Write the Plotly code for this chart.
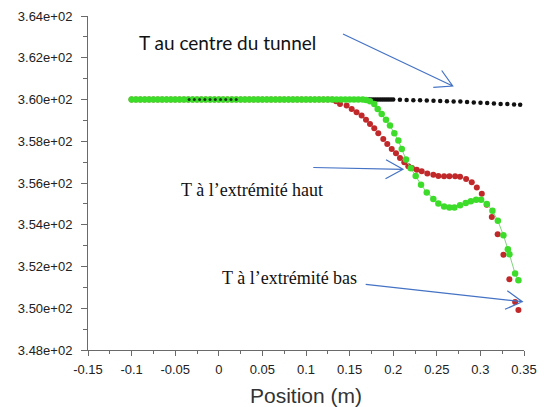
import plotly.graph_objects as go

# ---------------- data ----------------
# T at the centre of the tunnel (black)
center_x = [-0.1, -0.094, -0.088, -0.082, -0.076, -0.07, -0.064, -0.058, -0.052, -0.046,
            -0.04, -0.034, -0.028, -0.022, -0.016, -0.01, -0.004, 0.002, 0.008, 0.014,
            0.02, 0.026, 0.032, 0.038, 0.044, 0.05, 0.056, 0.062, 0.068, 0.074,
            0.08, 0.086, 0.092, 0.098, 0.104, 0.11, 0.116, 0.122, 0.128, 0.134,
            0.14, 0.146,
            0.15, 0.1525, 0.155, 0.1575, 0.16, 0.1625, 0.165, 0.1675, 0.17, 0.1725,
            0.175, 0.1775, 0.18, 0.1825, 0.185, 0.1875, 0.19, 0.1925, 0.195, 0.1975,
            0.2, 0.2077, 0.2154, 0.2231, 0.2308, 0.2385, 0.2462, 0.2539, 0.2616, 0.2693,
            0.277, 0.2847, 0.2924, 0.3001, 0.3078, 0.3155, 0.3232, 0.3309, 0.3386, 0.3456]
center_T = [360.0] * 62 + [
            360.0, 359.99, 359.98, 359.97, 359.96, 359.95, 359.94, 359.93, 359.92, 359.91,
            359.90, 359.88, 359.86, 359.85, 359.83, 359.81, 359.79, 359.78, 359.76, 359.75]

# T at the top end (red)
top_x = [-0.1, -0.095, -0.09, -0.085, -0.08, -0.075, -0.07, -0.065, -0.06, -0.055,
         -0.05, -0.045, -0.04, -0.035, -0.03, -0.025, -0.02, -0.015, -0.01, -0.005,
         0.0, 0.005, 0.01, 0.015, 0.02, 0.025, 0.03, 0.035, 0.04, 0.045,
         0.05, 0.055, 0.06, 0.065, 0.07, 0.075, 0.08, 0.085, 0.09, 0.095,
         0.1, 0.105, 0.11, 0.115, 0.12, 0.125, 0.13, 0.1345,
         0.139, 0.1466, 0.1524, 0.158, 0.1638, 0.1688, 0.1734, 0.1783, 0.1829, 0.1886,
         0.1932, 0.1983, 0.2032, 0.2078, 0.2127, 0.2173, 0.2215, 0.227, 0.2327, 0.2391,
         0.246, 0.2518, 0.2583, 0.2644, 0.271, 0.2767, 0.2836, 0.2901, 0.2959, 0.3016,
         0.3073, 0.3131, 0.3198, 0.3264, 0.3332, 0.3398, 0.3436]
top_T = [360.0] * 47 + [359.92,
         359.79, 359.71, 359.55, 359.39, 359.23, 359.03, 358.83, 358.62, 358.38, 358.11,
         357.87, 357.63, 357.42, 357.20, 356.99, 356.80, 356.72, 356.64, 356.56, 356.46,
         356.39, 356.34, 356.32, 356.32, 356.32, 356.30, 356.19, 356.03, 355.79, 355.49,
         354.96, 354.37, 353.55, 352.56, 351.39, 350.30, 349.92]

# T at the bottom end (green)
bottom_x = [-0.1, -0.095, -0.09, -0.085, -0.08, -0.075, -0.07, -0.065, -0.06, -0.055,
            -0.05, -0.045, -0.04, -0.035, -0.03, -0.025, -0.02, -0.015, -0.01, -0.005,
            0.0, 0.005, 0.01, 0.015, 0.02, 0.025, 0.03, 0.035, 0.04, 0.045,
            0.05, 0.055, 0.06, 0.065, 0.07, 0.075, 0.08, 0.085, 0.09, 0.095,
            0.1, 0.105, 0.11, 0.115, 0.12, 0.125, 0.13, 0.135, 0.14, 0.145,
            0.15, 0.155, 0.16, 0.165, 0.169,
            0.1734, 0.1783, 0.1822, 0.1868, 0.1917, 0.1963, 0.2013, 0.2059, 0.2098, 0.2147,
            0.2201, 0.2258, 0.2319, 0.2385, 0.246, 0.2518, 0.2583, 0.2644, 0.2702, 0.2767,
            0.2832, 0.289, 0.2951, 0.3008, 0.3073, 0.3138, 0.32, 0.3264, 0.3315, 0.3333,
            0.3398, 0.3436]
bottom_T = [360.0] * 54 + [359.98,
            359.92, 359.79, 359.55, 359.31, 359.03, 358.75, 358.38, 358.03, 357.63, 357.12,
            356.71, 356.33, 355.92, 355.55, 355.23, 355.02, 354.88, 354.83, 354.83, 354.94,
            355.04, 355.12, 355.20, 355.20, 354.99, 354.67, 354.19, 353.50, 352.83, 352.59,
            351.66, 351.34]

y_ticks = [348, 350, 352, 354, 356, 358, 360, 362, 364]
y_ticktext = ["3.48e+02", "3.50e+02", "3.52e+02", "3.54e+02", "3.56e+02",
              "3.58e+02", "3.60e+02", "3.62e+02", "3.64e+02"]
x_ticks = [-0.15, -0.1, -0.05, 0, 0.05, 0.1, 0.15, 0.2, 0.25, 0.3, 0.35]
x_ticktext = ["-0.15", "-0.1", "-0.05", "0", "0.05", "0.1", "0.15", "0.2", "0.25", "0.3", "0.35"]

labels = ["T au centre du tunnel", "T à l’extrémité haut", "T à l’extrémité bas"]

# ---------------- layout helpers (annotation positions from pixel layout) ----------------
W, H = 548, 407
ML, MR, MT, MB = 88, 24, 16, 57
XR = [-0.15, 0.35]
YR = [348, 364]


def px2x(px):
    return XR[0] + (px - ML) * (XR[1] - XR[0]) / (W - ML - MR)


def py2y(py):
    return YR[1] - (py - MT) * (YR[1] - YR[0]) / (H - MT - MB)


fig = go.Figure()

fig.add_trace(go.Scatter(x=center_x, y=center_T, mode="markers",
                         marker=dict(color="#111111", size=4.5), showlegend=False))
fig.add_trace(go.Scatter(x=top_x, y=top_T, mode="markers",
                         marker=dict(color="#c0282a", size=6), showlegend=False))
fig.add_trace(go.Scatter(x=bottom_x, y=bottom_T, mode="lines+markers",
                         line=dict(color="#7fd47a", width=1),
                         marker=dict(color="#3ddc2a", size=6.5), showlegend=False))
# part of the centre series rendered above the green one
ov_x = [x for x in center_x if -0.036 <= x <= 0.022]
ov_T = [t for x, t in zip(center_x, center_T) if -0.036 <= x <= 0.022]
fig.add_trace(go.Scatter(x=ov_x, y=ov_T, mode="markers",
                         marker=dict(color="#1a3a1a", size=3), showlegend=False))

# arrows (open heads) drawn as paths: tail, tip, head1, head2 (pixel layout)
arrows = [
    ((343, 34), (452.7, 86), (441.7, 70.5), (433.3, 87.3)),
    ((313.3, 167.5), (403, 169.3), (386, 159.7), (385.5, 178.7)),
    ((365.7, 284.3), (522.3, 301.7), (507.3, 290.7), (505, 309.3)),
]
for tail, tip, h1, h2 in arrows:
    def P(p):
        return f"{px2x(p[0])},{py2y(p[1])}"
    path = f"M {P(tail)} L {P(tip)} M {P(h1)} L {P(tip)} L {P(h2)}"
    fig.add_shape(type="path", path=path, xref="x", yref="y",
                  line=dict(color="#4472c4", width=1.2))

fig.add_annotation(x=px2x(137), y=py2y(42), text=labels[0], showarrow=False,
                   xanchor="left", yanchor="middle",
                   font=dict(family="Lato", size=19, color="#111111"))
fig.add_annotation(x=px2x(325), y=py2y(190), text=labels[1], showarrow=False,
                   xanchor="right", yanchor="middle",
                   font=dict(family="Liberation Serif", size=18, color="#111111"))
fig.add_annotation(x=px2x(359), y=py2y(278), text=labels[2], showarrow=False,
                   xanchor="right", yanchor="middle",
                   font=dict(family="Liberation Serif", size=18, color="#111111"))

fig.update_layout(
    width=W, height=H,
    margin=dict(l=ML, r=MR, t=MT, b=MB, autoexpand=False),
    paper_bgcolor="white", plot_bgcolor="white",
    font=dict(family="Liberation Sans, Arial", color="#222222"),
    xaxis=dict(range=XR, tickvals=x_ticks, ticktext=x_ticktext, showgrid=False, zeroline=False,
               showline=True, linecolor="#6a6a6a", linewidth=1, automargin=False,
               ticks="outside", ticklen=5, tickcolor="#6a6a6a", ticklabelstandoff=2,
               minor=dict(ticks="outside", ticklen=3, dtick=0.025, tickcolor="#6a6a6a"),
               tickfont=dict(size=13, color="#222222"),
               title=dict(text="Position (m)", font=dict(size=21, color="#333333"), standoff=13)),
    yaxis=dict(range=YR, tickvals=y_ticks, ticktext=y_ticktext, showgrid=False,
               zeroline=False, showline=True, linecolor="#6a6a6a", linewidth=1, automargin=False,
               ticks="outside", ticklen=6, tickcolor="#6a6a6a", ticklabelstandoff=6,
               minor=dict(ticks="outside", ticklen=4, dtick=1, tickcolor="#6a6a6a"),
               tickfont=dict(size=13, color="#222222")),
)

fig.write_html("out.html")
